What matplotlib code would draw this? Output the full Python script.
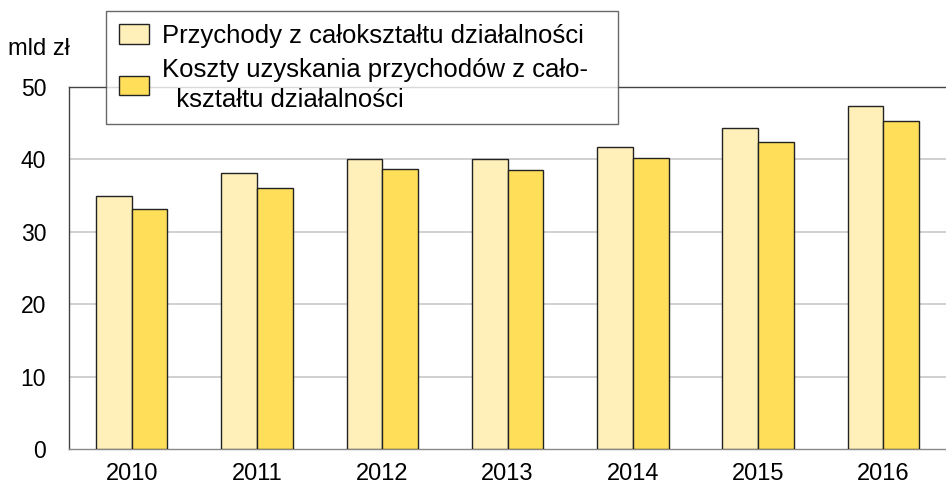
import matplotlib.pyplot as plt
import numpy as np

plt.rcParams['font.family'] = ['Liberation Sans', 'DejaVu Sans']

lata = ['2010', '2011', '2012', '2013', '2014', '2015', '2016']
przychody = [34.9, 38.1, 40.1, 40.0, 41.7, 44.3, 47.3]
koszty = [33.1, 36.0, 38.7, 38.5, 40.2, 42.4, 45.3]

kolor_przych = '#FFF0B9'
kolor_koszty = '#FFDE59'

fig = plt.figure(figsize=(9.46, 4.87), dpi=100)
ax = fig.add_axes([0.073, 0.078, 0.927, 0.7436])

x = np.arange(len(lata))
w = 0.285
b1 = ax.bar(x - w / 2, przychody, w, color=kolor_przych, edgecolor='#222222', linewidth=1.0, zorder=3,
            label='Przychody z całokształtu działalności   ')
b2 = ax.bar(x + w / 2, koszty, w, color=kolor_koszty, edgecolor='#222222', linewidth=1.0, zorder=3,
            label='Koszty uzyskania przychodów z cało-\n  kształtu działalności')

ax.set_xlim(-0.5, len(lata) - 0.5)
ax.set_ylim(0, 50)
ax.set_yticks([0, 10, 20, 30, 40, 50])
ax.set_xticks(x)
ax.set_xticklabels(lata)
ax.tick_params(axis='both', length=0)
ax.tick_params(axis='y', pad=16.5, labelsize=16.5)
ax.tick_params(axis='x', pad=10, labelsize=17)

# siatka pozioma
for v in [10, 20, 30, 40]:
    ax.axhline(v, color='#C8C8C8', linewidth=1.2, zorder=1)

ax.spines['right'].set_visible(False)
ax.spines['top'].set_color('#444444')
ax.spines['left'].set_color('#444444')
ax.spines['bottom'].set_color('#888888')
for s in ['top', 'left', 'bottom']:
    ax.spines[s].set_linewidth(1.0)

fig.text(0.008, 0.9, 'mld zł', fontsize=17, ha='left', va='center')

leg = fig.legend(handles=[b1, b2], loc='upper left', bbox_to_anchor=(0.112, 0.977),
                 fontsize=18.5, frameon=True, fancybox=False, edgecolor='#444444',
                 handlelength=1.17, handleheight=0.78, handletextpad=0.5,
                 borderpad=0.5, labelspacing=0.4, borderaxespad=0)
leg.get_frame().set_linewidth(1.0)
leg.get_texts()[1].set_linespacing(1.28)

fig.savefig('out.png', dpi=100)
